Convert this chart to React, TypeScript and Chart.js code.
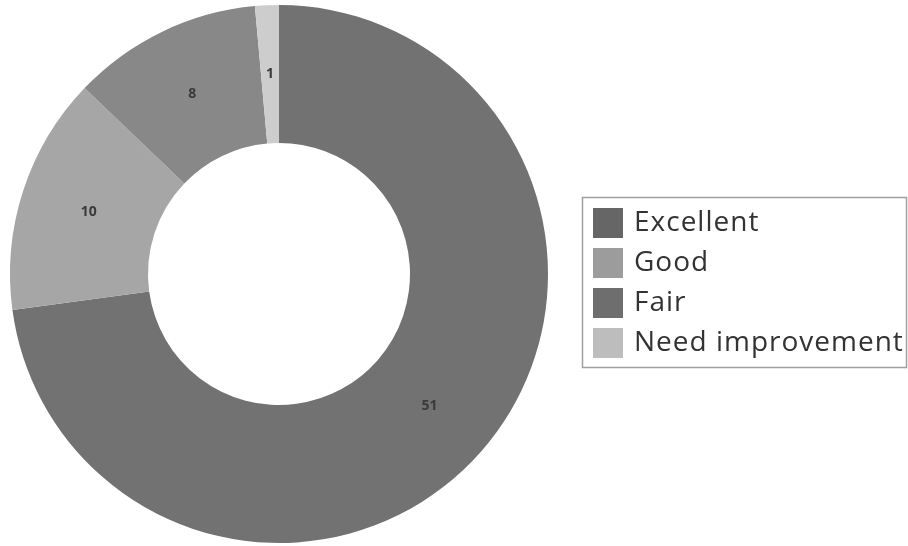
import React, { useEffect, useRef } from "react";
import { Chart, registerables } from "chart.js";

Chart.register(...registerables);

const categories = ["Excellent", "Good", "Fair", "Need improvement"];
const values = [51, 10, 8, 1];
const sliceColors = ["#727272", "#a6a6a6", "#888888", "#cdcdcd"];
const swatchColors = ["#666666", "#9c9c9c", "#6e6e6e", "#bdbdbd"];

const dataLabelPlugin = {
  id: "dataLabels",
  afterDatasetsDraw(chart: any) {
    const ctx = chart.ctx;
    const meta = chart.getDatasetMeta(0);
    ctx.save();
    ctx.font = "bold 14px 'Open Sans'";
    ctx.fillStyle = "#3a3a3a";
    ctx.textAlign = "center";
    ctx.textBaseline = "middle";
    meta.data.forEach((arc: any, i: number) => {
      const p = arc.tooltipPosition();
      ctx.fillText(String(chart.data.datasets[0].data[i]), p.x, p.y);
    });
    ctx.restore();
  },
};

const legendPlugin = {
  id: "boxLegend",
  afterDraw(chart: any) {
    const ctx = chart.ctx;
    const x0 = 582;
    const y0 = 197;
    const w = 324;
    const h = 170;
    ctx.save();
    ctx.strokeStyle = "#a0a0a0";
    ctx.lineWidth = 1.5;
    ctx.strokeRect(x0 + 0.5, y0 + 0.5, w, h);
    ctx.font = "28px 'Open Sans'";
    (ctx as any).letterSpacing = "1px";
    ctx.textBaseline = "middle";
    ctx.textAlign = "left";
    const labels = chart.data.labels as string[];
    labels.forEach((lab: string, i: number) => {
      const cy = y0 + 26 + i * 40;
      ctx.fillStyle = swatchColors[i];
      ctx.fillRect(x0 + 11, cy - 15, 30, 30);
      ctx.fillStyle = "#333333";
      ctx.fillText(lab, x0 + 52, cy);
    });
    ctx.restore();
  },
};

export default function App() {
  const ref = useRef<HTMLCanvasElement>(null);
  useEffect(() => {
    document.body.style.margin = "0";
    const chart = new Chart(ref.current!, {
      type: "doughnut",
      data: {
        labels: categories,
        datasets: [
          {
            data: values,
            backgroundColor: sliceColors,
            borderWidth: 0,
          },
        ],
      },
      options: {
        animation: false,
        responsive: false,
        cutout: "48.7%",
        layout: { padding: { left: 10, right: 360, top: 5, bottom: 3 } },
        plugins: {
          legend: { display: false },
          tooltip: { enabled: false },
        },
      },
      plugins: [dataLabelPlugin, legendPlugin],
    });
    return () => chart.destroy();
  }, []);
  return (
    <div style={{ width: 908, height: 546, background: "#fff" }}>
      <canvas ref={ref} width={908} height={546} />
    </div>
  );
}
